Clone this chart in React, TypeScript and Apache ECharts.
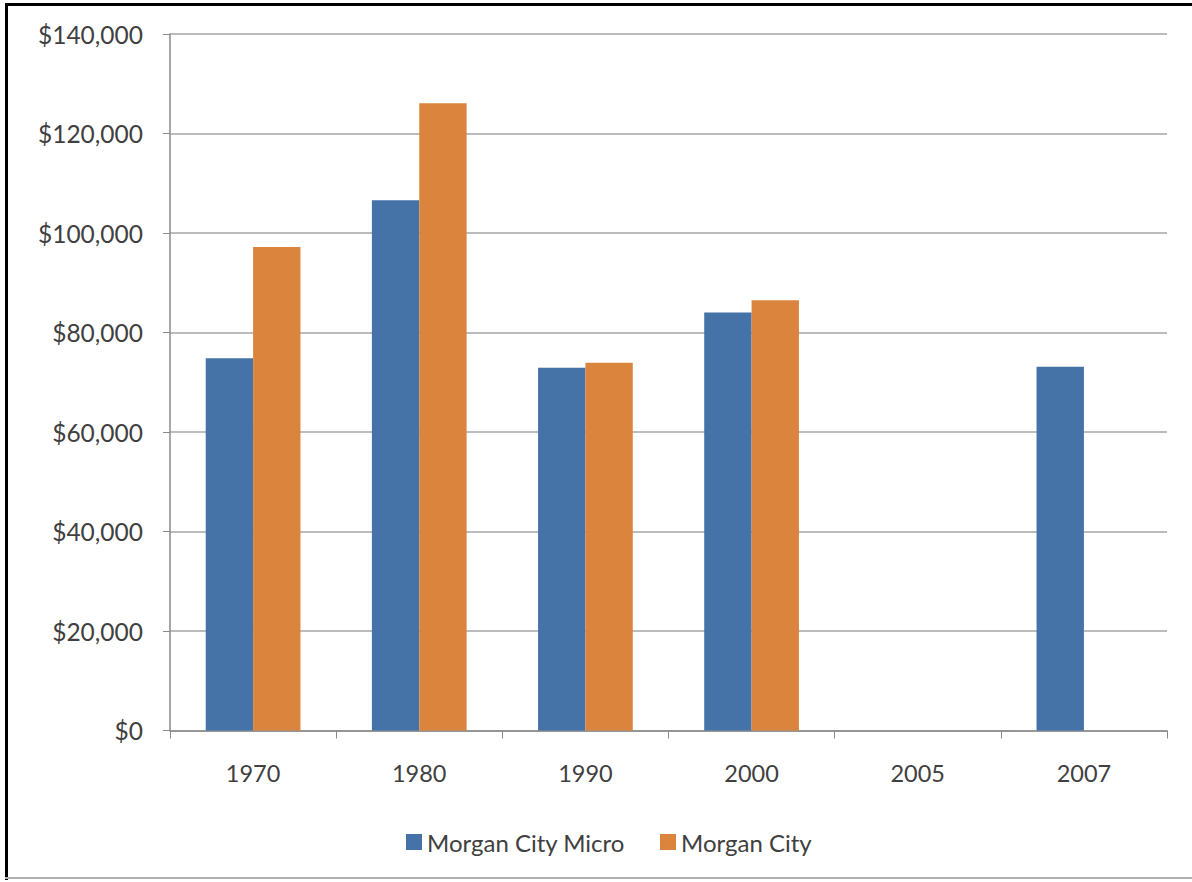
import React, { useEffect, useRef } from "react";
import * as echarts from "echarts";

const categories = ["1970", "1980", "1990", "2000", "2005", "2007"];
const microValues: (number | null)[] = [74800, 106600, 72900, 84000, null, 73100];
const cityValues: (number | null)[] = [97200, 126100, 73900, 86500, null, null];
const seriesNames = ["Morgan City Micro", "Morgan City"];

const FONT = "Lato, 'Open Sans', sans-serif";

export default function App() {
  const ref = useRef<HTMLDivElement>(null);
  useEffect(() => {
    if (!ref.current) return;
    const chart = echarts.init(ref.current, null, { renderer: "svg" });
    chart.setOption({
      animation: false,
      backgroundColor: "#ffffff",
      textStyle: { fontFamily: FONT },
      grid: { left: 170, right: 25, top: 34, bottom: 151.5, containLabel: false },
      legend: {
        data: seriesNames,
        bottom: 23,
        left: 401,
        itemWidth: 16,
        itemHeight: 16,
        itemGap: 35,
        icon: "rect",
        textStyle: { fontSize: 24, color: "#404040", fontFamily: FONT },
      },
      xAxis: {
        type: "category",
        data: categories,
        axisLine: { lineStyle: { color: "#8a8a8a", width: 1.5 } },
        axisTick: { show: true, length: 8, alignWithLabel: false, lineStyle: { color: "#8a8a8a" } },
        axisLabel: { fontSize: 23.5, color: "#404040", margin: 30, fontFamily: FONT },
      },
      yAxis: {
        type: "value",
        min: 0,
        max: 140000,
        interval: 20000,
        axisLine: { show: true, lineStyle: { color: "#8a8a8a", width: 1.5 } },
        axisTick: { show: true, length: 7, lineStyle: { color: "#8a8a8a" } },
        splitLine: { lineStyle: { color: "#a6a6a6", width: 1.5 } },
        axisLabel: {
          fontSize: 24.5,
          color: "#404040",
          margin: 27,
          fontFamily: FONT,
          formatter: (v: number) => "$" + v.toLocaleString("en-US"),
        },
      },
      series: [
        {
          name: seriesNames[0],
          type: "bar",
          data: microValues,
          itemStyle: { color: "#4572a7" },
          barGap: "0%",
          barCategoryGap: "43%",
        },
        {
          name: seriesNames[1],
          type: "bar",
          data: cityValues,
          itemStyle: { color: "#db843d" },
          barGap: "0%",
          barCategoryGap: "43%",
        },
      ],
      graphic: [
        { type: "rect", shape: { x: 5, y: 3, width: 1187, height: 3 }, style: { fill: "#000" }, silent: true },
        { type: "rect", shape: { x: 5, y: 3, width: 3, height: 877 }, style: { fill: "#000" }, silent: true },
        { type: "rect", shape: { x: 5, y: 877, width: 1187, height: 2 }, style: { fill: "#b0b0b0" }, silent: true },
      ],
    });
    return () => chart.dispose();
  }, []);
  return (
    <div
      ref={ref}
      style={{ position: "absolute", left: 0, top: 0, width: 1192, height: 882 }}
    />
  );
}
